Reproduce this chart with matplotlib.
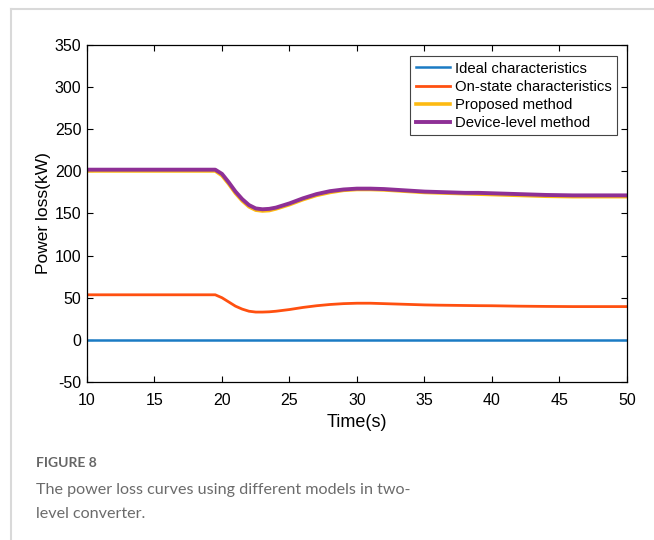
import matplotlib.pyplot as plt
from matplotlib.lines import Line2D

# time samples (s)
t = [10, 19.5, 20, 20.5, 21, 21.5, 22, 22.5, 23, 23.5, 24, 25, 26, 27, 28, 29,
     30, 31, 32, 33, 34, 35, 36, 37, 38, 39, 40, 42, 44, 46, 48, 50]

ideal = [0] * len(t)
on_state = [53.5, 53.5, 50, 45, 40, 36.5, 34, 33, 33, 33.3, 34, 36, 38.5, 40.5, 42, 43,
            43.5, 43.5, 43, 42.5, 42, 41.5, 41.2, 41, 40.8, 40.6, 40.5, 40, 39.7, 39.5, 39.5, 39.5]
proposed = [200.5, 200.5, 195, 185, 174, 165, 158, 154, 153, 153.5, 155.5, 160.5, 166.5, 171.5, 175, 177.5,
            178.5, 178.5, 178, 177, 176, 175, 174.5, 174, 173.5, 173, 172.5, 171.5, 170.5, 170, 170, 170]
device = [202, 202, 197, 187, 176, 167, 160, 156, 155, 155.5, 157, 162, 168, 173, 176.5, 178.5,
          179.5, 179.5, 179, 178, 177, 176, 175.5, 175, 174.5, 174.5, 174, 173, 172, 171.5, 171.5, 171.5]

labels = ['Ideal characteristics', 'On-state characteristics', 'Proposed method', 'Device-level method']
colors = ['#1A7BC4', '#FF5010', '#FDBA12', '#8E3096']

plt.rcParams['font.family'] = ['Liberation Sans', 'DejaVu Sans']
plt.rcParams['axes.unicode_minus'] = False

fig = plt.figure(figsize=(6.54, 5.4), dpi=100)
ax = fig.add_axes([0.133, 0.2926, 0.8257, 0.6241])

ax.plot(t, ideal, color=colors[0], lw=1.8, label=labels[0])
ax.plot(t, on_state, color=colors[1], lw=2.0, label=labels[1])
ax.plot(t, proposed, color=colors[2], lw=2.6, label=labels[2])
ax.plot(t, device, color=colors[3], lw=2.8, label=labels[3])

ax.set_xlim(10, 50)
ax.set_ylim(-50, 350)
ax.set_xticks(range(10, 51, 5))
ax.set_yticks(range(-50, 351, 50))
ax.tick_params(direction='in', top=True, right=True, length=4, width=0.8,
               labelsize=11.5)
ax.tick_params(axis='x', pad=8)
ax.tick_params(axis='y', pad=4)
for s in ax.spines.values():
    s.set_linewidth(0.9)
ax.set_xlabel('Time(s)', fontsize=13, labelpad=4)
ax.set_ylabel('Power loss(kW)', fontsize=12.5, labelpad=3)

leg = ax.legend(loc='upper right', bbox_to_anchor=(0.995, 0.988), fontsize=10.7,
                handlelength=2.3, handletextpad=0.35, borderpad=0.35,
                labelspacing=0.28, fancybox=False, framealpha=1)
leg.get_frame().set_edgecolor('#444444')
leg.get_frame().set_linewidth(0.8)

# page border
fig.add_artist(Line2D([11 / 654, 1], [1 - 9 / 540, 1 - 9 / 540], color='#d9d9d9', lw=1.5))
fig.add_artist(Line2D([11 / 654, 11 / 654], [0, 1 - 9 / 540], color='#d9d9d9', lw=1.5))

# caption
cap_font = ['Lato', 'DejaVu Sans']
fig.text(36 / 654, 1 - 463 / 540, 'FIGURE 8', fontsize=10, color='#666666',
         family=cap_font, fontweight='bold', va='center')
fig.text(36 / 654, 1 - 490 / 540, 'The power loss curves using different models in two-',
         fontsize=11.6, color='#6b6b6b', family=cap_font, va='center')
fig.text(36 / 654, 1 - 514 / 540, 'level converter.',
         fontsize=11.6, color='#6b6b6b', family=cap_font, va='center')

fig.savefig('out.png', dpi=100)
